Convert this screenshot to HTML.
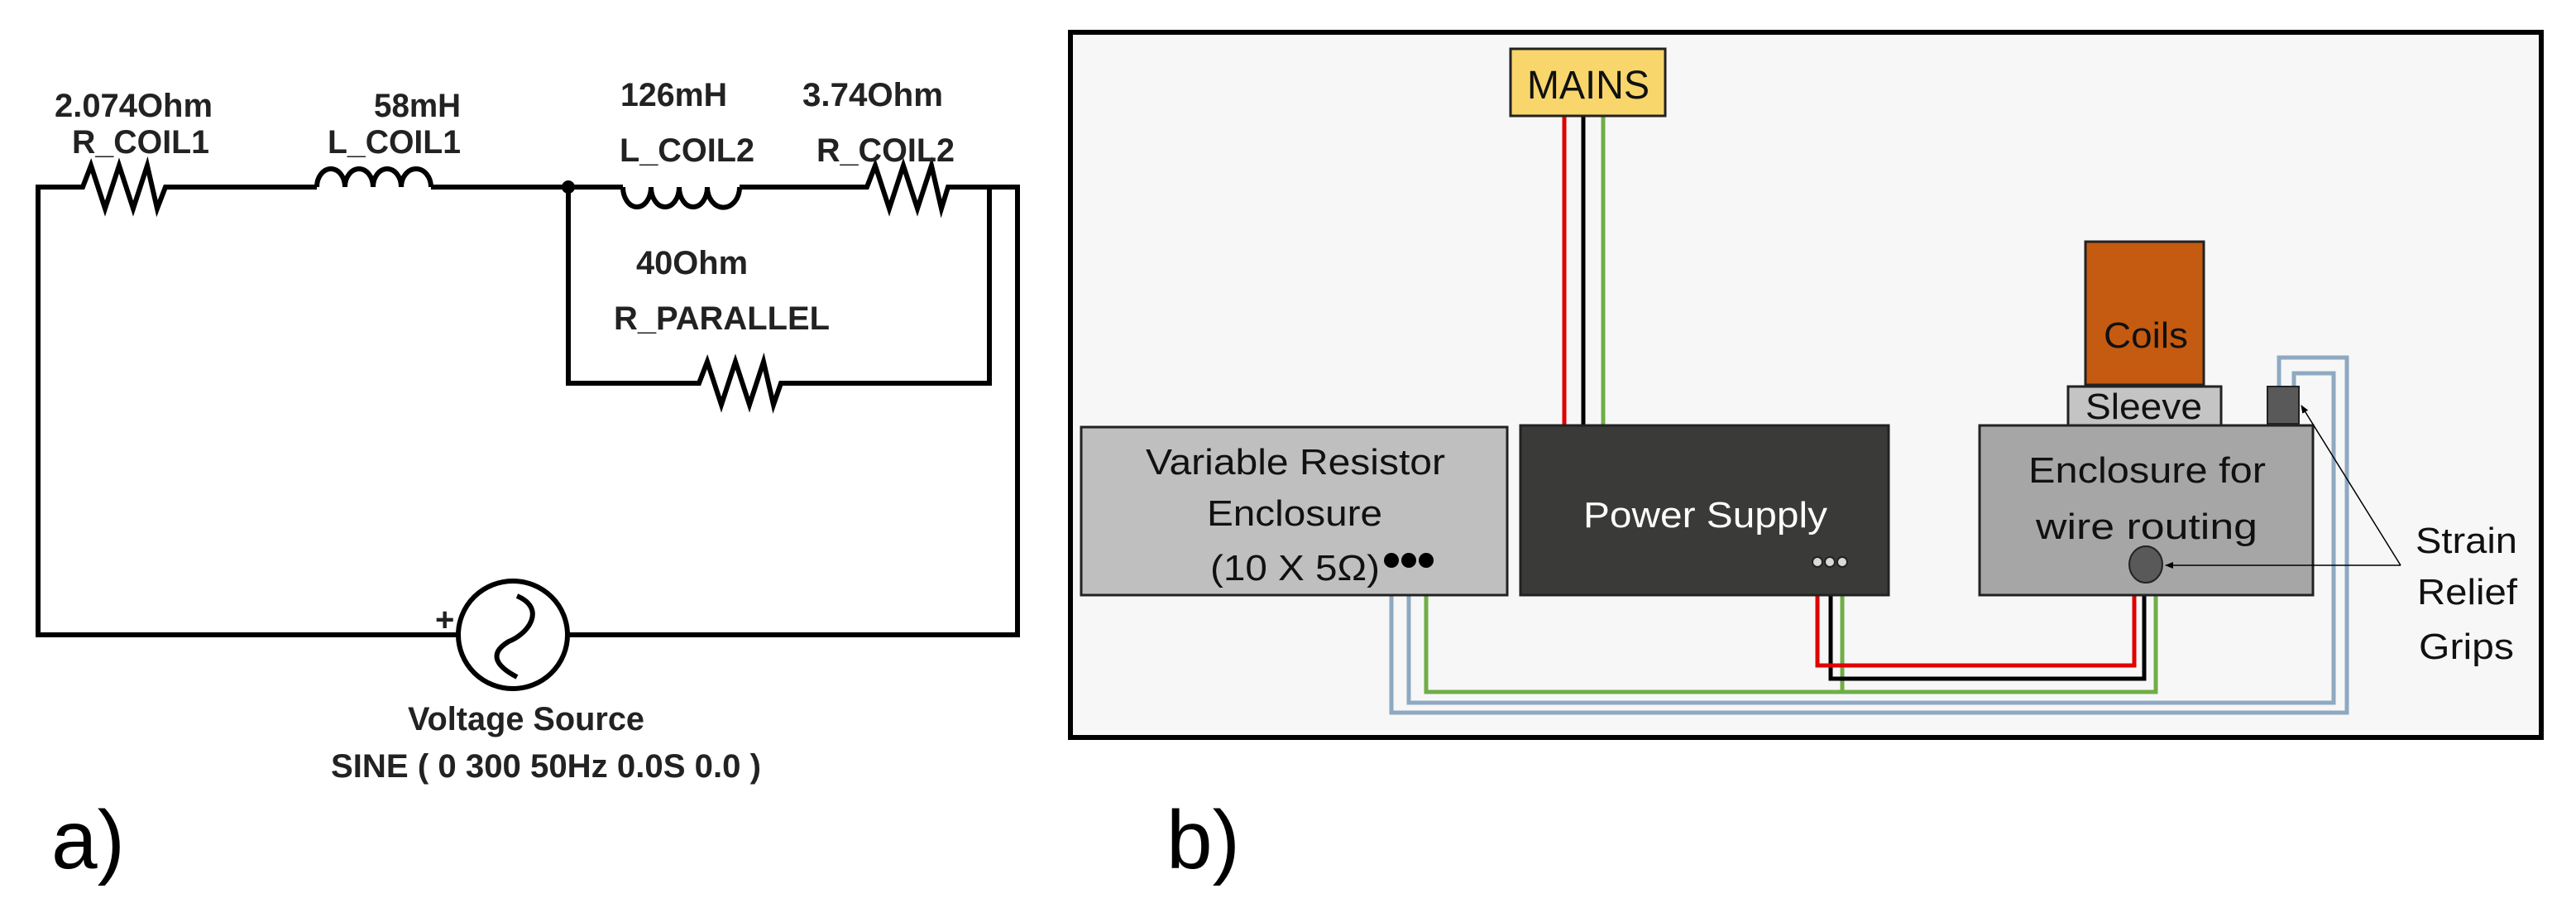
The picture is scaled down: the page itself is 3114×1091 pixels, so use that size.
<!DOCTYPE html>
<html><head><meta charset="utf-8"><style>html,body{margin:0;padding:0;background:#fff}svg{display:block}</style></head>
<body>
<svg width="3114" height="1091" viewBox="0 0 3114 1091" xmlns="http://www.w3.org/2000/svg">
<defs>
<marker id="ah" markerWidth="10" markerHeight="10" refX="9" refY="5" orient="auto" markerUnits="userSpaceOnUse"><path d="M0,1 L10,5 L0,9 z" fill="#000"/></marker>
</defs>
<rect width="3114" height="1091" fill="#fff"/>
<!-- Panel a -->
<g fill="none" stroke="#000" stroke-width="6" stroke-linejoin="miter">
<path d="M620,767 H1230 V226 H1153 M1035,226 H894 M753,226 H521 M383,226 H207 M85,226 H46 V767 H555"/>
<path d="M85,226 H100 L110,200 L127,252 L144,200 L161,252 L178,200 L190,252 L200,226 H207"/>
<path d="M1035,226 H1048 L1058,200 L1075,252 L1092,200 L1109,252 L1126,200 L1138,252 L1146,226 H1153"/>
<path d="M687,226 V463 H832 M952,463 H1196 V226"/>
<path d="M832,463 H845 L855,437 L872,489 L889,437 L906,489 L923,437 L935,489 L944,463 H952"/>
<path d="M383,226 a17,22 0 0 1 34,0 a17,22 0 0 1 34,0 a17,22 0 0 1 34,0 a18,22 0 0 1 36,0"/>
<path d="M753,226 a17,24 0 0 0 34,0 a17,24 0 0 0 34,0 a17,24 0 0 0 34,0 a19,24 0 0 0 39,0"/>
<ellipse cx="620" cy="767" rx="66" ry="65" fill="#fff"/>
<path d="M625,720 C660,735 640,765 615,775 C590,790 600,805 625,818" stroke-width="6"/>
</g>
<circle cx="687" cy="226" r="8" fill="#000"/>
<g font-family="Liberation Sans, Arial, sans-serif" font-size="40" font-weight="bold" fill="#222">
<text x="66" y="141" textLength="191" lengthAdjust="spacingAndGlyphs">2.074Ohm</text>
<text x="87" y="185" textLength="166" lengthAdjust="spacingAndGlyphs">R_COIL1</text>
<text x="452" y="141" textLength="105" lengthAdjust="spacingAndGlyphs">58mH</text>
<text x="396" y="185" textLength="161" lengthAdjust="spacingAndGlyphs">L_COIL1</text>
<text x="750" y="128" textLength="129" lengthAdjust="spacingAndGlyphs">126mH</text>
<text x="970" y="128" textLength="170" lengthAdjust="spacingAndGlyphs">3.74Ohm</text>
<text x="749" y="195" textLength="163" lengthAdjust="spacingAndGlyphs">L_COIL2</text>
<text x="987" y="195" textLength="167" lengthAdjust="spacingAndGlyphs">R_COIL2</text>
<text x="769" y="331" textLength="135" lengthAdjust="spacingAndGlyphs">40Ohm</text>
<text x="742" y="398" textLength="261" lengthAdjust="spacingAndGlyphs">R_PARALLEL</text>
<text x="493" y="882" textLength="286" lengthAdjust="spacingAndGlyphs">Voltage Source</text>
<text x="400" y="939" textLength="520" lengthAdjust="spacingAndGlyphs">SINE ( 0 300 50Hz 0.0S 0.0 )</text>
<text x="526" y="762" font-size="40">+</text>
</g>
<g font-family="Liberation Sans, Arial, sans-serif" font-size="100" fill="#000">
<text x="62" y="1049">a)</text>
<text x="1410" y="1049">b)</text>
</g>
<!-- Panel b -->
<rect x="1294" y="39" width="1778" height="852" fill="#f7f7f7" stroke="#000" stroke-width="6"/>
<g stroke-width="5" fill="none">
<path d="M1891,140 V514" stroke="#e00000"/>
<path d="M1914,140 V514" stroke="#000"/>
<path d="M1938,140 V514" stroke="#70ad47"/>
<path d="M1682,677 V861 H2837 V432 H2755 V469" stroke="#8ea9c1"/>
<path d="M1703,677 V849 H2821 V451 H2773 V469" stroke="#8ea9c1"/>
<path d="M1724,677 V836 H2606 V690" stroke="#70ad47"/>
<path d="M2227,679 V836" stroke="#70ad47"/>
<path d="M2213,679 V820 H2592 V690" stroke="#000"/>
<path d="M2197,679 V804 H2580 V690" stroke="#e00000"/>
</g>
<rect x="1826" y="59" width="187" height="81" fill="#f9d66b" stroke="#222" stroke-width="3"/>
<rect x="1307" y="516" width="515" height="203" fill="#bfbfbf" stroke="#222" stroke-width="3"/>
<rect x="1838" y="514" width="445" height="205" fill="#3a3a38" stroke="#222" stroke-width="3"/>
<rect x="2393" y="514" width="403" height="205" fill="#a6a6a6" stroke="#222" stroke-width="3"/>
<rect x="2521" y="292" width="143" height="173" fill="#c55a11" stroke="#222" stroke-width="3"/>
<rect x="2500" y="467" width="185" height="47" fill="#c4c4c4" stroke="#222" stroke-width="3"/>
<rect x="2741" y="467" width="38" height="45" fill="#595959" stroke="#222" stroke-width="2"/>
<ellipse cx="2594" cy="682" rx="20" ry="22" fill="#595959" stroke="#222" stroke-width="2"/>
<circle cx="1682" cy="677" r="9" fill="#000"/>
<circle cx="1703" cy="677" r="9" fill="#000"/>
<circle cx="1724" cy="677" r="9" fill="#000"/>
<g fill="#d9d9d9" stroke="#222" stroke-width="2">
<circle cx="2197" cy="679" r="6"/><circle cx="2212" cy="679" r="6"/><circle cx="2227" cy="679" r="6"/>
</g>
<g stroke="#000" stroke-width="1.5" fill="none">
<path d="M2902,683 H2618" marker-end="url(#ah)"/>
<path d="M2902,683 L2782,490" marker-end="url(#ah)"/>
</g>
<g font-family="Liberation Sans, Arial, sans-serif" font-size="44" fill="#111">
<text x="1846" y="119" font-size="48" textLength="148" lengthAdjust="spacingAndGlyphs">MAINS</text>
<text x="1385" y="573" textLength="362" lengthAdjust="spacingAndGlyphs">Variable Resistor</text>
<text x="1459" y="635" textLength="212" lengthAdjust="spacingAndGlyphs">Enclosure</text>
<text x="1463" y="701" textLength="205" lengthAdjust="spacingAndGlyphs">(10 X 5Ω)</text>
<text x="1914" y="637" fill="#fff" textLength="295" lengthAdjust="spacingAndGlyphs">Power Supply</text>
<text x="2452" y="583" textLength="287" lengthAdjust="spacingAndGlyphs">Enclosure for</text>
<text x="2461" y="651" textLength="268" lengthAdjust="spacingAndGlyphs">wire routing</text>
<text x="2543" y="420" textLength="102" lengthAdjust="spacingAndGlyphs">Coils</text>
<text x="2521" y="506" textLength="141" lengthAdjust="spacingAndGlyphs">Sleeve</text>
<text x="2920" y="668" textLength="123" lengthAdjust="spacingAndGlyphs">Strain</text>
<text x="2922" y="730" textLength="121" lengthAdjust="spacingAndGlyphs">Relief</text>
<text x="2924" y="796" textLength="115" lengthAdjust="spacingAndGlyphs">Grips</text>
</g>
</svg>
</body></html>
